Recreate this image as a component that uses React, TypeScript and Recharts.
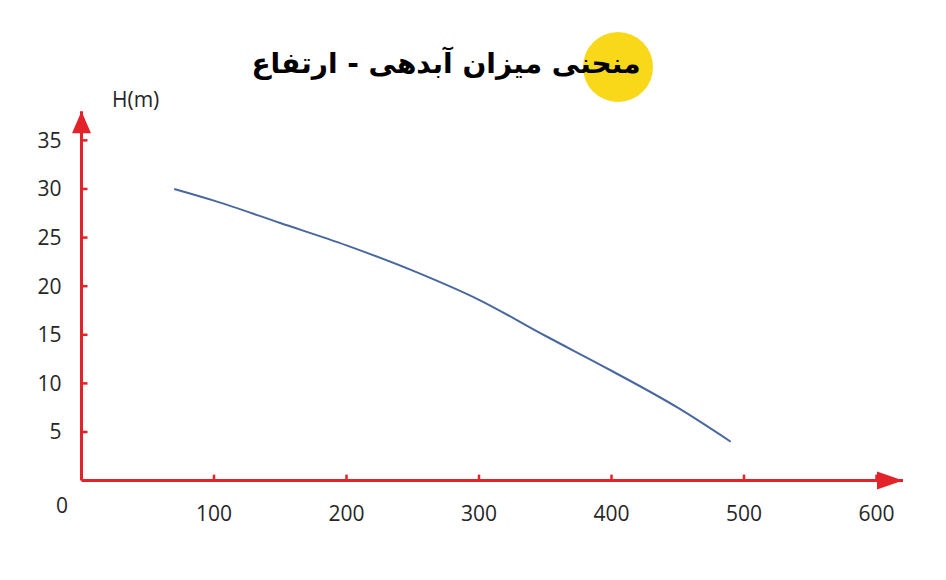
import React from "react";
import { LineChart, Line, XAxis, YAxis, ReferenceDot } from "recharts";

const flowValues = [70, 100, 150, 200, 250, 300, 350, 400, 450, 490];
const headValues = [30, 28.8, 26.5, 24.2, 21.6, 18.6, 14.9, 11.3, 7.5, 4.0];
const xTicks = [0, 100, 200, 300, 400, 500, 600];
const yTicks = [5, 10, 15, 20, 25, 30, 35];
const titleText = "منحنی میزان آبدهی - ارتفاع";
const yAxisLabel = "H(m)";

const data = flowValues.map((q, i) => ({ q, h: headValues[i] }));

const RED = "#e3222a";
const TEXT = "#262626";
const FONT = "'Open Sans', sans-serif";

const XTick = (props: any) => {
  const { x, y, payload } = props;
  const v = payload.value;
  if (v === 0) {
    return (
      <text x={x - 19.5} y={y + 32} textAnchor="middle" fill={TEXT} fontSize={21} fontFamily={FONT}>
        0
      </text>
    );
  }
  return (
    <g>
      <line x1={x} y1={y} x2={x} y2={y - 6} stroke={RED} strokeWidth={2.5} />
      <text x={x} y={y + 40} textAnchor="middle" fill={TEXT} fontSize={21} fontFamily={FONT}>
        {v}
      </text>
    </g>
  );
};

const YTick = (props: any) => {
  const { x, y, payload } = props;
  return (
    <g>
      <line x1={x} y1={y} x2={x + 6} y2={y} stroke={RED} strokeWidth={2.5} />
      <text x={x - 20} y={y + 7.5} textAnchor="end" fill={TEXT} fontSize={21} fontFamily={FONT}>
        {payload.value}
      </text>
    </g>
  );
};

const UpArrow = (props: any) => {
  const { cx, cy } = props;
  return <polygon points={`${cx},${cy} ${cx - 9.5},${cy + 22} ${cx + 9.5},${cy + 22}`} fill={RED} />;
};

const RightArrow = (props: any) => {
  const { cx, cy } = props;
  return <polygon points={`${cx},${cy} ${cx - 26},${cy - 9} ${cx - 26},${cy + 9}`} fill={RED} />;
};

export default function App() {
  return (
    <div style={{ position: "absolute", left: 0, top: 0, width: 946, height: 580, background: "#fff" }}>
      <div
        style={{
          position: "absolute",
          left: 583,
          top: 32,
          width: 70,
          height: 70,
          borderRadius: "50%",
          background: "#f8d818",
        }}
      />
      <div
        style={{
          position: "absolute",
          left: 0,
          top: 44,
          width: 892,
          textAlign: "center",
          direction: "rtl",
          fontFamily: "'DejaVu Sans', sans-serif",
          fontWeight: 700,
          fontSize: 28,
          color: "#000",
          lineHeight: "40px",
        }}
      >
        {titleText}
      </div>
      <div
        style={{
          position: "absolute",
          left: 112,
          top: 86,
          fontFamily: FONT,
          fontSize: 21,
          color: TEXT,
          lineHeight: "26px",
        }}
      >
        {yAxisLabel}
      </div>
      <div style={{ position: "absolute", left: 0, top: 0 }}>
        <LineChart
          width={946}
          height={580}
          data={data}
          margin={{ top: 111.2, right: 43, bottom: 59.4, left: 21.5 }}
        >
          <XAxis
            type="number"
            dataKey="q"
            domain={[0, 620]}
            ticks={xTicks}
            interval={0}
            height={40}
            tickSize={0}
            tickMargin={0}
            axisLine={{ stroke: RED, strokeWidth: 3 }}
            tickLine={false}
            tick={<XTick />}
            allowDataOverflow
          />
          <YAxis
            type="number"
            domain={[0, 38]}
            ticks={yTicks}
            interval={0}
            width={60}
            tickSize={0}
            tickMargin={0}
            axisLine={{ stroke: RED, strokeWidth: 3 }}
            tickLine={false}
            tick={<YTick />}
            allowDataOverflow
          />
          <Line
            type="monotone"
            dataKey="h"
            stroke="#4a68a0"
            strokeWidth={2}
            dot={false}
            isAnimationActive={false}
          />
          <ReferenceDot x={0} y={38} ifOverflow="visible" shape={<UpArrow />} />
          <ReferenceDot x={620} y={0} ifOverflow="visible" shape={<RightArrow />} />
        </LineChart>
      </div>
    </div>
  );
}
